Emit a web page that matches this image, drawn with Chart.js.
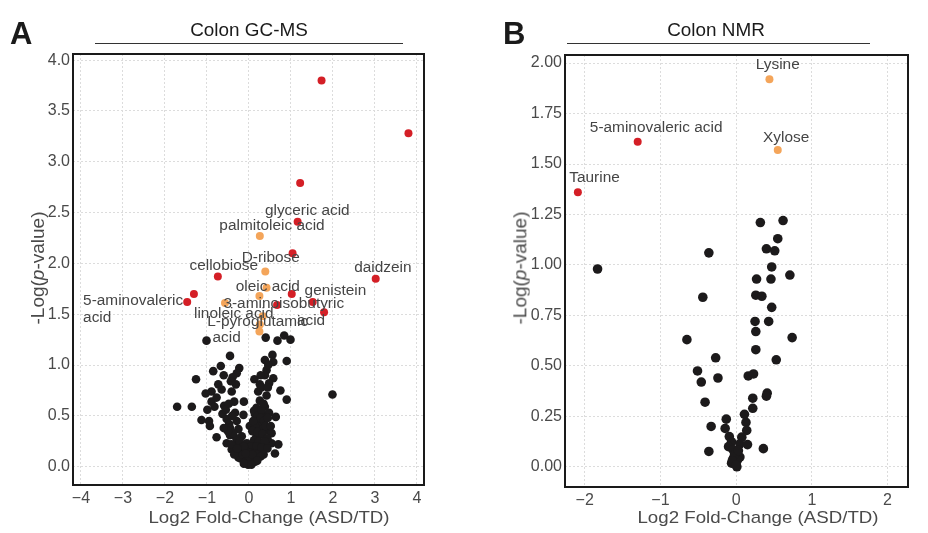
<!DOCTYPE html>
<html><head><meta charset="utf-8">
<script src="https://cdn.jsdelivr.net/npm/chart.js@4.4.1/dist/chart.umd.min.js"></script>
<style>
html,body{margin:0;padding:0;background:#fff;}
body{width:928px;height:533px;overflow:hidden;position:relative;font-family:"Liberation Sans",Arial,Helvetica,sans-serif;}
.box{position:absolute;top:0;width:464px;height:533px;}
#b1{left:0}#b2{left:464px}
.t{position:absolute;white-space:nowrap;line-height:1;}
.letter{font-weight:bold;font-size:31px;color:#1a1a1a;font-family:"Liberation Sans Narrow","Liberation Sans",Arial,sans-serif;}
.ptitle{font-size:18px;color:#1a1a1a;transform:translateX(-50%) scaleX(1.05);}
.xt{font-size:17px;color:#4a4a4a;transform:translateX(-50%) scaleX(1.1);}
.yt{font-size:19px;color:#4a4a4a;transform:translate(-50%,-50%) rotate(-90deg) scaleY(0.92);}
.rule{position:absolute;height:1.6px;background:#333;}
</style></head>
<body>
<div class="box" id="b1"><canvas id="c1"></canvas></div>
<div class="box" id="b2"><canvas id="c2"></canvas></div>
<div class="t letter" style="left:10px;top:18px;">A</div>
<div class="t letter" style="left:503px;top:18px;">B</div>
<div class="t ptitle" style="left:249px;top:21px;">Colon GC-MS</div>
<div class="t ptitle" style="left:716px;top:21px;">Colon NMR</div>
<div class="rule" style="left:95px;width:308px;top:42.5px;"></div>
<div class="rule" style="left:567px;width:303px;top:42.5px;"></div>
<div class="t xt" style="left:269px;top:509px;">Log2 Fold-Change (ASD/TD)</div>
<div class="t xt" style="left:758px;top:509px;">Log2 Fold-Change (ASD/TD)</div>
<div class="t yt" style="left:38px;top:268px;">-Log(<i>p</i>-value)</div>
<div class="t yt" style="left:520px;top:268px;">-Log(<i>p</i>-value)</div>
<script>
// ---------------- DATA: Colon GC-MS ----------------
const gcRedX = [1.73, 3.80, 1.22, 1.16, 1.04, -0.74, 3.02, 1.02, -1.31, -1.47, 1.52, 0.67, 1.79];
const gcRedY = [3.80, 3.28, 2.79, 2.41, 2.10, 1.87, 1.85, 1.70, 1.70, 1.62, 1.62, 1.59, 1.52];
const gcOrangeX = [0.26, 0.39, 0.42, 0.25, -0.57, 0.33, 0.26, 0.25];
const gcOrangeY = [2.27, 1.92, 1.76, 1.68, 1.61, 1.48, 1.40, 1.33];
const gcBlackX = [-1.01,0.40,0.68,0.84,0.99,-0.45,0.56,0.38,0.58,0.90,-0.67,-0.85,-0.23,-0.29,-0.60,-0.39,0.42,0.38,0.58,-1.26,
  0.13,-0.43,0.48,-0.31,0.26,-0.73,-0.65,-0.89,-1.03,-0.41,0.22,0.75,1.99,0.26,0.90,-0.89,-0.77,-0.35,-0.12,-1.71,
  -1.36,-0.99,-0.82,-0.59,0.18,0.38,-0.63,-0.33,-0.13,0.14,0.34,0.48,0.64,-1.13,-0.95,-0.53,-0.47,-0.29,0.17,0.30,
  -0.93,-0.45,-0.25,0.02,0.26,0.42,0.54,-0.77,-0.45,-0.17,0.18,-0.53,0.70,-0.33,-0.05,0.34,0.54,-0.41,-0.21,0.10,
  0.26,0.62,-0.25,-0.05,0.10,-0.10,-0.02,0.02,
  0.12,0.20,0.22,0.28,0.36,0.40,0.15,0.08,0.20,0.32,0.44,0.12,0.24,0.38,0.05,0.18,0.30,0.44,0.00,0.14,
  0.22,0.35,-0.10,-0.30,-0.38,-0.22,-0.12,-0.20,-0.15,-0.35,-0.42,0.05,0.15,-0.05,0.00,0.08,-0.08,0.28,0.20,-0.12,
  0.06,-0.28,-0.50,-0.60,-0.40,0.30,0.45,0.52,0.10,0.35,0.42,0.30,0.45,-0.55,-0.48,0.28,0.46];
const gcBlackY = [1.24,1.27,1.24,1.29,1.25,1.09,1.10,1.05,1.03,1.04,0.99,0.94,0.97,0.92,0.90,0.88,0.95,0.90,0.87,0.86,
  0.86,0.84,0.82,0.81,0.81,0.81,0.76,0.74,0.72,0.74,0.74,0.75,0.71,0.65,0.66,0.64,0.68,0.64,0.64,0.59,
  0.59,0.56,0.59,0.60,0.58,0.59,0.52,0.53,0.51,0.52,0.51,0.53,0.49,0.46,0.45,0.47,0.42,0.45,0.46,0.42,
  0.40,0.38,0.37,0.40,0.38,0.36,0.33,0.29,0.31,0.30,0.30,0.23,0.22,0.22,0.23,0.22,0.23,0.17,0.15,0.17,
  0.17,0.13,0.09,0.10,0.09,0.04,0.02,0.05,
  0.55,0.50,0.44,0.48,0.45,0.40,0.40,0.35,0.34,0.32,0.28,0.26,0.25,0.25,0.20,0.20,0.19,0.18,0.14,0.13,
  0.12,0.12,0.18,0.28,0.33,0.25,0.20,0.08,0.12,0.12,0.22,0.07,0.05,0.06,0.10,0.12,0.13,0.10,0.06,0.03,
  0.02,0.18,0.35,0.38,0.50,0.56,0.48,0.40,0.45,0.62,0.70,0.78,0.78,0.56,0.62,0.90,1.00];
const gcLabelText = ['glyceric acid','palmitoleic acid','D-ribose','cellobiose','daidzein','oleic acid','genistein',
  '5-aminovaleric','acid','3-aminoisobutyric','acid','linoleic acid','L-pyroglutamic','acid'];
const gcXTicks = {min:-4, max:4, step:1};
const gcYTicks = {step:0.5, decimals:1};

// ---------------- DATA: Colon NMR ----------------
const nmrRedX = [-1.30, -2.09];
const nmrRedY = [1.61, 1.36];
const nmrOrangeX = [0.44, 0.55];
const nmrOrangeY = [1.92, 1.57];
const nmrBlackX = [0.32,0.62,0.55,0.40,0.51,-0.36,-1.83,0.47,0.27,0.46,0.71,-0.44,0.26,0.34,0.47,0.25,0.43,0.26,-0.65,0.74,
  0.26,-0.27,0.53,-0.51,-0.46,-0.24,0.16,0.23,-0.41,0.22,0.41,0.40,0.22,0.11,-0.13,-0.33,-0.145,0.13,0.14,-0.09,
  0.075,-0.06,0.05,0.15,-0.10,-0.04,-0.36,0.36,0.05,-0.035,-0.06,0.01,-0.01,0.02,-0.02,0.03,-0.05,0.00];
const nmrBlackY = [1.21,1.22,1.13,1.08,1.07,1.06,0.98,0.99,0.93,0.93,0.95,0.84,0.85,0.845,0.79,0.72,0.72,0.67,0.63,0.64,
  0.58,0.54,0.53,0.475,0.42,0.44,0.45,0.46,0.32,0.34,0.365,0.35,0.29,0.26,0.236,0.20,0.19,0.22,0.18,0.15,
  0.147,0.124,0.114,0.11,0.10,0.084,0.076,0.09,0.048,0.043,0.018,0.0,0.026,0.035,0.06,0.08,0.03,0.01];
const nmrLabelText = ['Lysine','5-aminovaleric acid','Xylose','Taurine'];
const nmrXTicks = {min:-2, max:2, step:1};
const nmrYTicks = {step:0.25, decimals:2};

// ---------------- LAYOUT (label anchors in data units, not data) ----------------
const gcLabelPos = [[1.39,2.516,'center'],[0.55,2.37,'center'],[0.52,2.05,'center'],[-0.60,1.97,'center'],[3.19,1.95,'center'],
  [0.45,1.77,'center'],[2.06,1.73,'center'],[-3.95,1.625,'left'],[-3.95,1.46,'left'],[0.83,1.60,'center'],[1.48,1.435,'center'],
  [-0.36,1.50,'center'],[0.21,1.425,'center'],[-0.53,1.26,'center']];
const nmrLabelPos = [[0.55,1.99,'center'],[-1.056,1.677,'center'],[0.66,1.63,'center'],[-1.87,1.43,'center']];

const FONT = '"Liberation Sans", Arial, Helvetica, sans-serif';
const RED = '#d41f26', ORANGE = '#f4a55a', BLACK = '#1c1a1b';
const toPts = (xs, ys) => xs.map((x, i) => ({x, y: ys[i]}));
const minus = v => (v < 0 ? '\u2212' + Math.abs(v) : String(v));

const boxPlugin = {
  id: 'boxPlugin',
  afterDatasetsDraw(chart) {
    const {ctx, chartArea: a} = chart;
    ctx.save();
    ctx.strokeStyle = '#1a1a1a';
    ctx.lineWidth = 2;
    ctx.strokeRect(a.left, a.top, a.right - a.left, a.bottom - a.top);
    ctx.restore();
  }
};
const labelPlugin = {
  id: 'labelPlugin',
  afterDatasetsDraw(chart, args, opts) {
    const {ctx} = chart;
    const xs = chart.scales.x, ys = chart.scales.y;
    ctx.save();
    ctx.fillStyle = '#454545';
    ctx.font = '14px ' + FONT;
    ctx.textBaseline = 'middle';
    opts.texts.forEach((t, i) => {
      const [lx, ly, al] = opts.pos[i];
      const px = xs.getPixelForValue(lx), py = ys.getPixelForValue(ly);
      ctx.save();
      ctx.translate(px, py);
      ctx.scale(1.1, 1);
      ctx.textAlign = al;
      ctx.fillText(t, 0, 0);
      ctx.restore();
    });
    ctx.restore();
  }
};

function makeChart(id, cfg) {
  const ds = (label, xs, ys, color, r) => ({
    label, data: toPts(xs, ys), backgroundColor: color, borderColor: color, borderWidth: 0,
    pointRadius: r, pointHoverRadius: r, showLine: false
  });
  return new Chart(document.getElementById(id), {
    type: 'scatter',
    data: {
      datasets: [
        ds('red', cfg.redX, cfg.redY, RED, cfg.rc),
        ds('orange', cfg.orX, cfg.orY, ORANGE, cfg.rc),
        ds('black', cfg.bkX, cfg.bkY, BLACK, cfg.rb)
      ]
    },
    options: {
      responsive: true, maintainAspectRatio: false, animation: false, events: [],
      layout: {padding: {left: 0, top: cfg.padTop, right: cfg.padRight, bottom: 0}},
      plugins: {legend: {display: false}, tooltip: {enabled: false},
        labelPlugin: {texts: cfg.labels, pos: cfg.labelPos}},
      scales: {
        x: {
          type: 'linear', min: cfg.xmin, max: cfg.xmax,
          ticks: {stepSize: cfg.xt.step, includeBounds: false, autoSkip: false, maxRotation: 0, padding: 4,
            color: '#4a4a4a', font: {family: FONT, size: 16}, callback: v => minus(v)},
          grid: {color: '#dcdcdc', drawTicks: false, lineWidth: 1},
          border: {display: false, dash: [2, 2]},
          afterFit: s => { s.height = cfg.xh; }
        },
        y: {
          type: 'linear', min: cfg.ymin, max: cfg.ymax,
          ticks: {stepSize: cfg.yt.step, includeBounds: false, autoSkip: false, padding: 3,
            color: '#4a4a4a', font: {family: FONT, size: 16}, callback: v => v.toFixed(cfg.yt.decimals)},
          grid: {color: '#dcdcdc', drawTicks: false, lineWidth: 1},
          border: {display: false, dash: [2, 2]},
          afterFit: s => { s.width = cfg.yw; }
        }
      }
    },
    plugins: [boxPlugin, labelPlugin]
  });
}

makeChart('c1', {
  redX: gcRedX, redY: gcRedY, orX: gcOrangeX, orY: gcOrangeY, bkX: gcBlackX, bkY: gcBlackY,
  rc: 4, rb: 4.3, labels: gcLabelText, labelPos: gcLabelPos,
  xmin: -4.19, xmax: 4.17, ymin: -0.18, ymax: 4.06, xt: gcXTicks, yt: gcYTicks,
  padTop: 54, padRight: 40, xh: 48, yw: 73
});
makeChart('c2', {
  redX: nmrRedX, redY: nmrRedY, orX: nmrOrangeX, orY: nmrOrangeY, bkX: nmrBlackX, bkY: nmrBlackY,
  rc: 4, rb: 4.8, labels: nmrLabelText, labelPos: nmrLabelPos,
  xmin: -2.26, xmax: 2.27, ymin: -0.1, ymax: 2.04, xt: nmrXTicks, yt: nmrYTicks,
  padTop: 55, padRight: 20, xh: 46, yw: 101
});
</script>
</body></html>
